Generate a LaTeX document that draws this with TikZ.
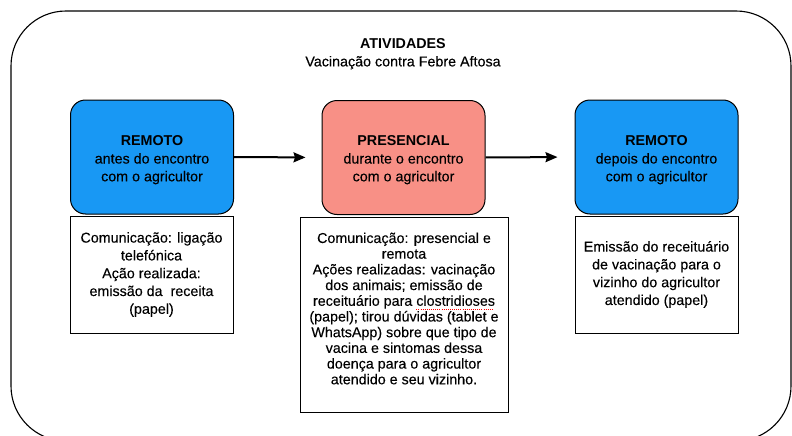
\documentclass[tikz,border=0pt]{standalone}
\usepackage{fontspec}
\setmainfont{Liberation Sans}[UprightFeatures={FakeBold=0.2}]
\usetikzlibrary{arrows.meta}
\definecolor{boxblue}{RGB}{24,152,244}
\definecolor{boxpink}{RGB}{248,144,134}
\newcommand\spellmark[1]{\setbox0\hbox{#1}\rlap{\lower0.5ex\hbox to \wd0{\color{red}\leaders\hbox{\rule{1pt}{0.9pt}\kern1.1pt}\hfill}}#1}
\begin{document}
\begin{tikzpicture}[x=1pt,y=-1pt,
  txt/.style={font=\fontsize{14.3}{17.8}\selectfont, align=center, inner sep=0pt},
  headbox/.style={draw=black, line width=1pt, rounded corners=15pt, minimum width=163pt, minimum height=114pt},
  infobox/.style={draw=black, line width=0.9pt, minimum width=163pt, minimum height=117pt, txt},
  flow/.style={line width=2pt, -{Stealth[length=12pt,width=10pt,inset=1.5pt]}}
]
\useasboundingbox (0,0) rectangle (792,436);
\clip (0,0) rectangle (792,436);
\draw[line width=1.1pt, rounded corners=55pt] (11,11) rectangle (791,441);

\node[txt] (title) at (403,54) {\textbf{ATIVIDADES}\\Vacinação contra Febre Aftosa};

\node[headbox, fill=boxblue] (r1) at (152,157) {};
\node[headbox, fill=boxpink] (p) at (403.5,157.5) {};
\node[headbox, fill=boxblue] (r2) at (656.5,157) {};
\node[txt] (r1t) at (152,160) {\textbf{REMOTO}\\antes do encontro\\com o agricultor};
\node[txt] (pt) at (403.5,160) {\textbf{PRESENCIAL}\\durante o encontro\\com o agricultor};
\node[txt] (r2t) at (656.5,160) {\textbf{REMOTO}\\depois do encontro\\com o agricultor};

\node[infobox] (i1) at (151.5,274.5) {Comunicação: ligação\\telefónica\\Ação realizada:\\emissão da\ \ receita\\(papel)};
\node[infobox, minimum width=208pt, minimum height=195pt] (i2) at (404,314.5) {};
\node[txt, font=\fontsize{14.3}{15.7}\selectfont] (i2t) at (404,308.5) {Comunicação: presencial e\\remota\\Ações realizadas: vacinação\\dos animais; emissão de\\receituário para \spellmark{clostridioses}\\(papel); tirou dúvidas (tablet e\\WhatsApp) sobre que tipo de\\vacina e sintomas dessa\\doença para o agricultor\\atendido e seu vizinho.};
\node[infobox] (i3) at (656.5,274.5) {Emissão do receituário\\de vacinação para o\\vizinho do agricultor\\atendido (papel)};

\draw[flow, shorten >=16pt] (r1.east) -- (p.west);
\draw[flow, shorten >=17pt] (p.east) -- (r2.west);
\end{tikzpicture}
\end{document}
